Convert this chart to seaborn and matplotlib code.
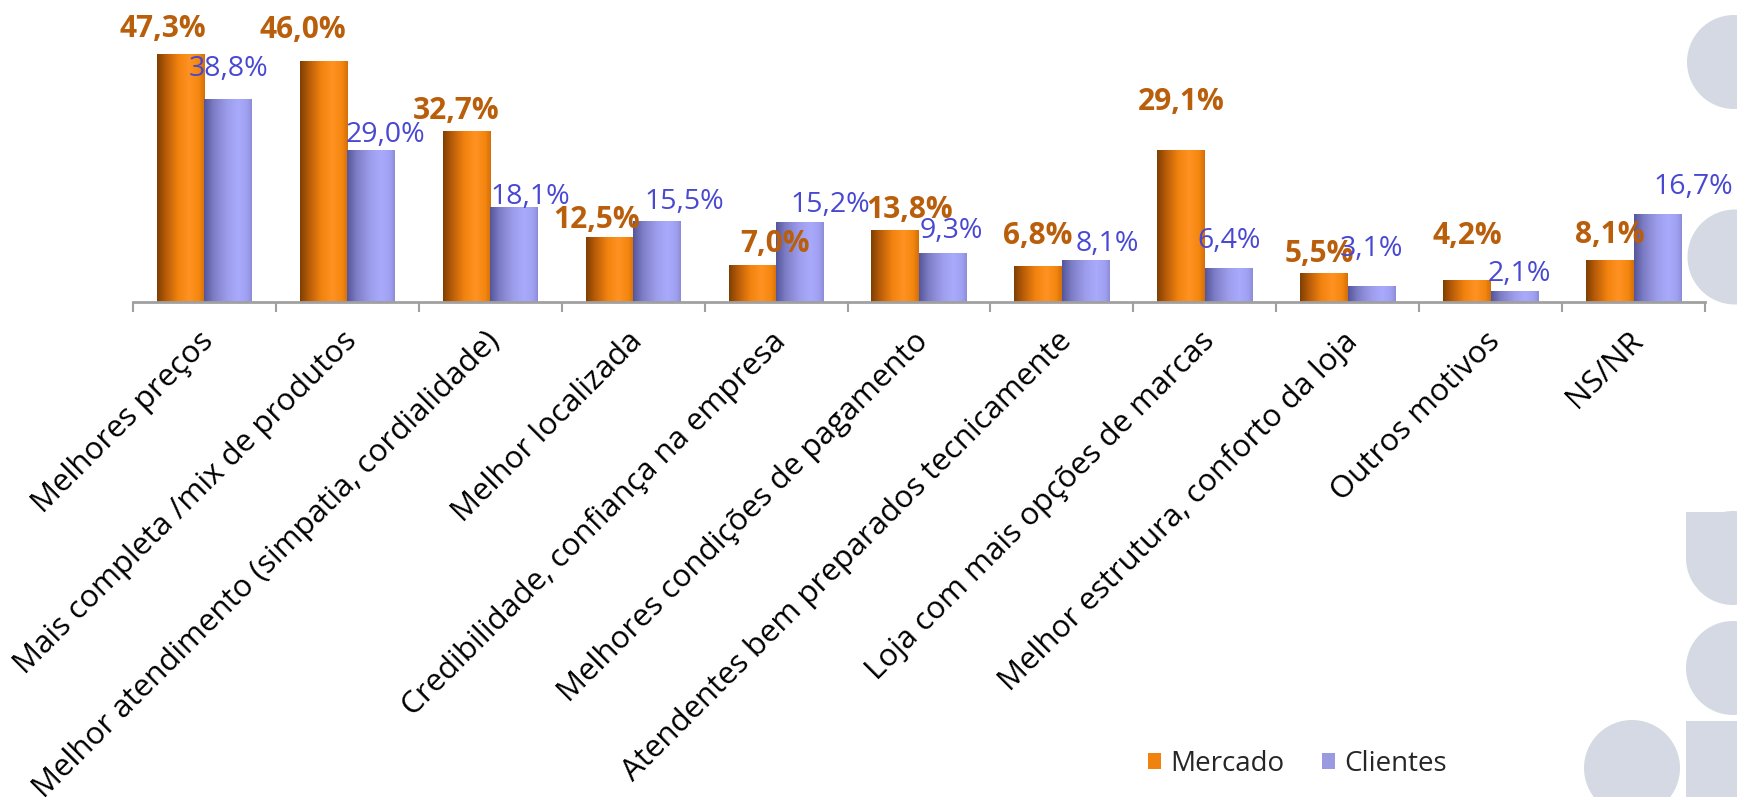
import numpy as np
import pandas as pd
import matplotlib
matplotlib.use("Agg")
import matplotlib.pyplot as plt
import matplotlib.transforms as mtransforms
from matplotlib.patches import Rectangle, Circle, Patch
from matplotlib.colors import LinearSegmentedColormap
import seaborn as sns

# ---- data -------------------------------------------------------------
categorias = [
    "Melhores preços",
    "Mais completa /mix de produtos",
    "Melhor atendimento (simpatia, cordialidade)",
    "Melhor localizada",
    "Credibilidade, confiança na empresa",
    "Melhores condições de pagamento",
    "Atendentes bem preparados tecnicamente",
    "Loja com mais opções de marcas",
    "Melhor estrutura, conforto da loja",
    "Outros motivos",
    "NS/NR",
]
series = ["Mercado", "Clientes"]
mercado = [47.3, 46.0, 32.7, 12.5, 7.0, 13.8, 6.8, 29.1, 5.5, 4.2, 8.1]
clientes = [38.8, 29.0, 18.1, 15.5, 15.2, 9.3, 8.1, 6.4, 3.1, 2.1, 16.7]

# label nudges in pixels: (right, up) from the top centre of each bar
nudge_mercado = [(-18, 25), (-21, 31), (-10, 20), (-13, 16), (23, 21), (14, 20),
                 (0, 30), (0, 48), (-5, 19), (0, 44), (0, 25)]
nudge_clientes = [(0, 30), (14, 15), (16, 10), (27, 19), (30, 17), (9, 22),
                  (22, 16), (0, 27), (0, 37), (5, 17), (36, 27)]

# ---- styling ------------------------------------------------------------
sns.set_style("white")
plt.rcParams["font.family"] = ["Open Sans", "DejaVu Sans"]

W, H, DPI = 1737, 797, 100
fig = plt.figure(figsize=(W / DPI, H / DPI), dpi=DPI)
fig.patch.set_facecolor("white")

# decorative rounded blocks at the right edge (pixel coordinates)
deco = "#D4D9E3"
px = mtransforms.IdentityTransform()
def fy(y):
    return H - y
for (cx, cy, r) in [(1734, 62, 47), (1735, 257, 47.5), (1733, 558, 47),
                    (1733, 668, 47), (1632, 768, 48)]:
    fig.add_artist(Circle((cx, fy(cy)), r, transform=px, facecolor=deco,
                          edgecolor="none", zorder=0))
fig.add_artist(Rectangle((1686, fy(558)), 60, 46, transform=px,
                         facecolor=deco, edgecolor="none", zorder=0))
fig.add_artist(Rectangle((1686, fy(800)), 60, 79, transform=px,
                         facecolor=deco, edgecolor="none", zorder=0))

ax = fig.add_axes([133 / W, (H - 302) / H, 1572 / W, 288.2 / H])
ax.set_facecolor("none")

df = pd.DataFrame({
    "categoria": categorias * 2,
    "serie": [series[0]] * len(categorias) + [series[1]] * len(categorias),
    "valor": mercado + clientes,
})

cor_mercado = "#F0820F"
cor_clientes = "#9A9AE0"
sns.barplot(data=df, x="categoria", y="valor", hue="serie", hue_order=series,
            order=categorias, palette=[cor_mercado, cor_clientes],
            width=0.665, gap=0, legend=False, ax=ax, saturation=1)

# cylinder-like horizontal shading on each bar
grad_mercado = LinearSegmentedColormap.from_list(
    "m", [(0.0, "#7E3F02"), (0.18, "#B65B08"), (0.45, "#F2830F"),
          (0.68, "#FF9222"), (0.88, "#F5870F"), (1.0, "#D26E0A")])
grad_clientes = LinearSegmentedColormap.from_list(
    "c", [(0.0, "#55559A"), (0.2, "#7D7DC6"), (0.5, "#9E9EEE"),
          (0.72, "#AAAAFD"), (0.9, "#A0A0F2"), (1.0, "#8C8CD8")])
ramp = np.linspace(0, 1, 256).reshape(1, -1)
for cont, cmap in zip(ax.containers, [grad_mercado, grad_clientes]):
    for bar in cont:
        x0, w, h = bar.get_x(), bar.get_width(), bar.get_height()
        im = ax.imshow(ramp, cmap=cmap, aspect="auto", interpolation="bilinear",
                       extent=[x0, x0 + w, 0, h], zorder=2)
        im.set_clip_path(bar)
        bar.set_facecolor("none")
        bar.set_edgecolor("none")
ax.set_xlim(-0.5, len(categorias) - 0.5)
ax.set_ylim(0, 55)

# value labels
def fmt(v):
    return f"{v:.1f}%".replace(".", ",")

for cont, nudges, color, weight, size in [
        (ax.containers[0], nudge_mercado, "#B95E0B", "bold", 21.5),
        (ax.containers[1], nudge_clientes, "#4848D2", "normal", 20.5)]:
    for bar, (dx, dy) in zip(cont, nudges):
        v = bar.get_height()
        ax.annotate(fmt(v), (bar.get_x() + bar.get_width() / 2, v),
                    xytext=(dx * 0.72, dy * 0.72), textcoords="offset points",
                    ha="center", va="center", fontsize=size, color=color,
                    fontweight=weight, zorder=5, annotation_clip=False)

# axes styling
for s in ["left", "right", "top"]:
    ax.spines[s].set_visible(False)
ax.spines["bottom"].set_color("#A0A0A0")
ax.spines["bottom"].set_linewidth(2)
ax.set_yticks([])
ax.set_xlabel("")
ax.set_ylabel("")
ax.set_xticks(np.arange(-0.5, len(categorias)), minor=True)
ax.tick_params(axis="x", which="minor", length=7, width=1.5, color="#A0A0A0",
               direction="out", bottom=True)
ax.tick_params(axis="x", which="major", length=0, pad=25)
ax.set_xticks(range(len(categorias)))
ax.set_xticklabels(categorias, rotation=45, ha="right", va="center",
                   rotation_mode="anchor", fontsize=22.5, color="black")
shift = mtransforms.ScaledTranslation(5 / DPI, 0, fig.dpi_scale_trans)
for lab in ax.get_xticklabels():
    lab.set_transform(lab.get_transform() + shift)

# legend
handles = [Patch(facecolor=cor_mercado, edgecolor="none", label=series[0]),
           Patch(facecolor=cor_clientes, edgecolor="none", label=series[1])]
fig.legend(handles=handles, loc="center left",
           bbox_to_anchor=(1148 / W, 1 - 764 / H), ncol=2, frameon=False,
           fontsize=20, handlelength=0.47, handleheight=0.47,
           handletextpad=0.32, columnspacing=1.37, borderpad=0,
           borderaxespad=0)

fig.savefig("out.png", dpi=DPI)
